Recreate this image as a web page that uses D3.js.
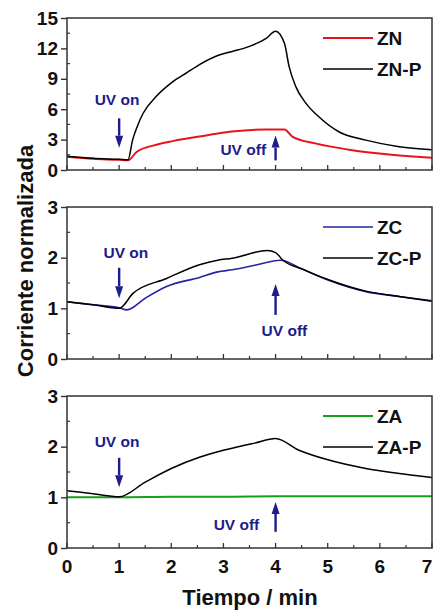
<!DOCTYPE html>
<html>
<head>
<meta charset="utf-8">
<script src="https://cdn.jsdelivr.net/npm/d3@7"></script>
<style>
  body { margin: 0; background: #fff; }
  svg { display: block; font-family: "Liberation Sans", Arial, sans-serif; }
</style>
</head>
<body>
<div id="chart"></div>
<script>
// tiempo (min) y corriente normalizada
const tZN = [0, 0.5, 1.0, 1.17, 1.34, 1.72, 2.03, 2.54, 2.89, 3.17, 3.82, 4.17, 4.32, 4.78, 5.41, 6.04, 7.0];
const vZN = [1.3, 1.1, 1.0, 0.95, 1.8, 2.5, 2.85, 3.3, 3.6, 3.8, 4.0, 4.0, 3.3, 2.6, 2.0, 1.6, 1.2];

const tZNP = [0, 0.5, 1.0, 1.17, 1.26, 1.34, 1.46, 1.7, 2.0, 2.3, 2.54, 2.89, 3.17, 3.5, 3.82, 4.0, 4.17, 4.26, 4.39, 4.58, 4.84, 5.22, 5.73, 6.37, 7.0];
const vZNP = [1.35, 1.15, 1.05, 1.0, 3.0, 4.2, 5.6, 7.2, 8.6, 9.6, 10.4, 11.3, 11.7, 12.2, 13.0, 13.7, 12.5, 10.2, 8.2, 6.6, 5.2, 3.75, 2.95, 2.3, 2.0];

const tZC = [0, 0.5, 1.0, 1.15, 1.5, 1.91, 2.54, 2.89, 3.17, 3.6, 4.1, 4.5, 5.03, 5.73, 6.4, 7];
const vZC = [1.13, 1.07, 1.01, 0.97, 1.2, 1.43, 1.61, 1.72, 1.76, 1.85, 1.95, 1.78, 1.55, 1.33, 1.23, 1.15];

const tZCP = [0, 0.5, 1.0, 1.27, 1.91, 2.54, 2.89, 3.17, 3.84, 4.0, 4.14, 4.5, 5.03, 5.73, 6.4, 7];
const vZCP = [1.13, 1.07, 1.0, 1.3, 1.59, 1.86, 1.95, 1.99, 2.14, 2.1, 1.95, 1.78, 1.56, 1.34, 1.23, 1.14];

const tZA = [0, 1, 2, 3, 4, 5, 6, 7];
const vZA = [1.0, 1.0, 1.01, 1.01, 1.02, 1.02, 1.02, 1.02];

const tZAP = [0, 0.5, 1.0, 1.5, 2.0, 2.54, 2.89, 3.17, 3.6, 4.0, 4.45, 4.97, 5.73, 6.37, 7];
const vZAP = [1.13, 1.07, 1.01, 1.3, 1.57, 1.79, 1.9, 1.97, 2.07, 2.16, 1.93, 1.75, 1.57, 1.47, 1.39];

const xTicks = [0, 1, 2, 3, 4, 5, 6, 7];
const yTicksTop = [0, 3, 6, 9, 12, 15];
const yTicksSmall = [0, 1, 2, 3];

const W = 434, H = 612;
const left = 67, right = 432;
const navy = "#1c1c8c";

const svg = d3.select("#chart").append("svg")
    .attr("width", W)
    .attr("height", H);

svg.append("rect").attr("width", W).attr("height", H).attr("fill", "#fff");

const x = d3.scaleLinear().domain([0, 7]).range([left, right]);

const panels = [
  { top: 18, bottom: 170, max: 15, ticks: yTicksTop, minor: 1.5,
    series: [
      { name: "ZN", t: tZN, v: vZN, color: "#e8141c", w: 2 },
      { name: "ZN-P", t: tZNP, v: vZNP, color: "#000", w: 1.5 }
    ],
    uvOn: { tx: 0.96, ty: 7.0, a0: 5.1, a1: 2.2 },
    uvOff: { tx: 3.38, ty: 2.0, a0: 0.95, a1: 3.4 }
  },
  { top: 207, bottom: 359, max: 3, ticks: yTicksSmall, minor: 0.5,
    series: [
      { name: "ZC", t: tZC, v: vZC, color: "#2424a0", w: 1.6 },
      { name: "ZC-P", t: tZCP, v: vZCP, color: "#000", w: 1.5 }
    ],
    uvOn: { tx: 1.13, ty: 2.11, a0: 1.8, a1: 1.2 },
    uvOff: { tx: 4.17, ty: 0.57, a0: 0.87, a1: 1.48 }
  },
  { top: 396, bottom: 548, max: 3, ticks: yTicksSmall, minor: 0.5,
    series: [
      { name: "ZA", t: tZA, v: vZA, color: "#16a01c", w: 2 },
      { name: "ZA-P", t: tZAP, v: vZAP, color: "#000", w: 1.5 }
    ],
    uvOn: { tx: 0.96, ty: 2.11, a0: 1.78, a1: 1.2 },
    uvOff: { tx: 3.25, ty: 0.47, a0: 0.32, a1: 0.91 }
  }
];

function arrow(g, px, y0, y1) {
  // shaft + filled head, pointing from y0 to y1
  const dir = y1 > y0 ? 1 : -1;
  const headLen = 12, headW = 4;
  g.append("line")
      .attr("x1", px).attr("x2", px)
      .attr("y1", y0).attr("y2", y1 - dir * headLen)
      .attr("stroke", navy).attr("stroke-width", 2.4);
  g.append("path")
      .attr("d", `M${px - headW},${y1 - dir * headLen} L${px + headW},${y1 - dir * headLen} L${px},${y1} Z`)
      .attr("fill", navy);
}

panels.forEach((p, i) => {
  const y = d3.scaleLinear().domain([0, p.max]).range([p.bottom, p.top]);
  const g = svg.append("g");

  // lines
  p.series.forEach(s => {
    const pts = s.t.map((t, k) => [t, s.v[k]]);
    g.append("path")
        .datum(pts)
        .attr("fill", "none")
        .attr("stroke", s.color)
        .attr("stroke-width", s.w)
        .attr("stroke-linejoin", "round")
        .attr("d", d3.line().x(d => x(d[0])).y(d => y(d[1])).curve(d3.curveMonotoneX));
  });

  // frame
  g.append("rect")
      .attr("x", left).attr("y", p.top)
      .attr("width", right - left).attr("height", p.bottom - p.top)
      .attr("fill", "none").attr("stroke", "#333").attr("stroke-width", 1.5);

  // y axis (major ticks outward)
  const yAxis = g.append("g")
      .attr("transform", `translate(${left},0)`)
      .call(d3.axisLeft(y).tickValues(p.ticks).tickSize(6).tickPadding(3).tickFormat(d3.format("d")));
  yAxis.select(".domain").remove();
  yAxis.selectAll("line").attr("stroke", "#333").attr("stroke-width", 1.4);
  yAxis.selectAll("text")
      .attr("font-size", 19).attr("font-weight", "bold").attr("fill", "#111")
      .attr("font-family", "Liberation Sans, Arial, sans-serif");

  // y minor ticks inward
  const yMinor = d3.range(p.minor, p.max, p.minor * 2);
  g.selectAll(".ymin").data(yMinor).join("line")
      .attr("x1", left).attr("x2", left + 3)
      .attr("y1", d => y(d)).attr("y2", d => y(d))
      .attr("stroke", "#333").attr("stroke-width", 1.2);

  // x ticks inward
  g.selectAll(".xmaj").data(xTicks).join("line")
      .attr("x1", d => x(d)).attr("x2", d => x(d))
      .attr("y1", p.bottom).attr("y2", p.bottom - 5)
      .attr("stroke", "#333").attr("stroke-width", 1.3);
  g.selectAll(".xmin").data(d3.range(0.5, 7, 1)).join("line")
      .attr("x1", d => x(d)).attr("x2", d => x(d))
      .attr("y1", p.bottom).attr("y2", p.bottom - 3)
      .attr("stroke", "#333").attr("stroke-width", 1.2);

  if (i === panels.length - 1) {
    g.selectAll(".xlab").data(xTicks).join("text")
        .attr("x", d => Math.min(x(d), 427)).attr("y", p.bottom + 25)
        .attr("text-anchor", "middle")
        .attr("font-size", 19).attr("font-weight", "bold").attr("fill", "#111")
        .text(d => d);
  }

  // legend
  p.series.forEach((s, k) => {
    const ly = p.top + 20 + k * 31;
    g.append("line")
        .attr("x1", 323).attr("x2", 373).attr("y1", ly).attr("y2", ly)
        .attr("stroke", s.color).attr("stroke-width", s.w);
    g.append("text")
        .attr("x", 377).attr("y", ly + 7)
        .attr("font-size", 19).attr("font-weight", "bold").attr("fill", "#111")
        .text(s.name);
  });

  // UV annotations
  g.append("text")
      .attr("x", x(p.uvOn.tx)).attr("y", y(p.uvOn.ty) + 5.5)
      .attr("text-anchor", "middle")
      .attr("font-size", 15.5).attr("font-weight", "bold").attr("fill", navy)
      .text("UV on");
  arrow(g, x(1), y(p.uvOn.a0), y(p.uvOn.a1));

  g.append("text")
      .attr("x", x(p.uvOff.tx)).attr("y", y(p.uvOff.ty) + 5.5)
      .attr("text-anchor", "middle")
      .attr("font-size", 15.5).attr("font-weight", "bold").attr("fill", navy)
      .text("UV off");
  arrow(g, x(4), y(p.uvOff.a0), y(p.uvOff.a1));
});

// axis titles
svg.append("text")
    .attr("transform", "translate(33,261) rotate(-90)")
    .attr("text-anchor", "middle")
    .attr("font-size", 22).attr("font-weight", "bold").attr("fill", "#111")
    .text("Corriente normalizada");

svg.append("text")
    .attr("x", 250).attr("y", 605)
    .attr("text-anchor", "middle")
    .attr("font-size", 22).attr("font-weight", "bold").attr("fill", "#111")
    .text("Tiempo / min");
</script>
</body>
</html>
